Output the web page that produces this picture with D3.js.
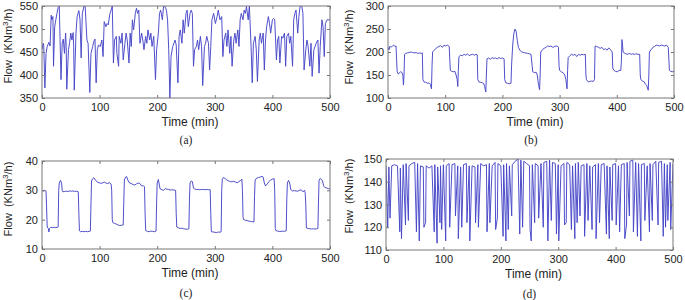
<!DOCTYPE html>
<html><head><meta charset="utf-8">
<script src="https://cdn.jsdelivr.net/npm/d3@7/dist/d3.min.js"></script>
<style>
body{margin:0;background:#fff;}
text{font-family:"Liberation Sans",Arial,sans-serif;fill:#222;}
.cap{font-family:"Liberation Serif","Times New Roman",serif;}
.ylab{white-space:pre;}
</style></head>
<body>
<svg id="chart" width="685" height="300"></svg>
<script>
// ---------- data ----------
const aT=[0,2,3,5,7,9,12,14,16,17,19,20,22,24,26,28,30,33,35,37,39,41,42,43,46,48,50,52,54,55,56,59,61,64,66,68,70,73,75,78,80,83,85,88,90,92,94,96,98,101,104,106,108,111,113,115,118,120,122,124,126,129,130,133,134,137,139,141,144,146,148,151,153,155,157,159,162,164,166,168,170,173,175,177,180,182,184,187,189,191,194,197,199,202,204,206,209,211,213,216,218,220,222,224,227,229,231,233,236,238,240,243,245,247,250,252,254,257,259,261,263,265,268,270,272,275,277,279,282,284,286,289,291,293,295,298,301,304,306,309,312,314,316,319,321,323,326,328,330,333,335,337,340,342,344,346,349,351,353,355,358,360,363,365,367,370,372,374,377,379,381,384,386,388,390,393,395,397,400,402,404,407,409,411,413,416,418,421,423,425,428,430,432,435,437,439,441,444,446,448,451,453,455,458,460,462,465,467,469,472,474,476,479,481,483,486,488,490,492,495,497,500];
const aV=[455,469,465,372,447,462,471,463,530,520,527,419,505,520,534,547,550,390,469,478,447,491,462,369,455,471,491,476,492,462,367,491,527,540,520,437,534,550,549,476,469,362,447,462,473,478,383,455,465,462,476,440,516,505,512,509,534,541,550,426,476,484,447,419,484,469,491,433,469,491,476,426,491,462,520,498,534,545,534,541,469,491,476,455,484,469,498,476,491,462,484,390,455,491,534,541,520,549,550,541,520,455,350,440,462,469,476,465,383,484,498,469,520,491,534,541,505,534,541,534,419,455,462,476,455,484,462,377,462,469,484,469,411,462,520,534,512,527,541,520,527,440,476,491,462,498,447,484,419,476,491,469,498,462,520,534,520,541,534,549,520,550,462,383,469,484,455,386,476,491,469,491,411,476,505,527,512,491,520,523,520,433,476,484,426,484,480,491,419,484,491,469,484,419,520,534,541,491,527,549,550,534,411,455,476,462,419,469,397,455,462,469,476,404,462,520,505,440,512,520,520,520];

const bT=[0,2,3,6,8,10,12,14,15,16,18,20,22,24,26,27,28,29,31,34,37,40,43,46,49,52,55,58,60,61,63,66,69,72,74,76,77,78,80,83,86,89,92,95,98,101,104,107,108,109,111,114,117,119,121,122,123,124,127,130,133,136,139,142,145,148,151,154,156,157,159,162,165,167,169,171,172,173,176,179,182,185,188,191,194,197,200,203,204,206,209,212,215,216,218,220,222,224,226,228,231,234,237,240,244,247,250,252,253,256,259,261,263,265,266,267,270,273,276,279,282,285,288,291,294,297,298,299,300,303,306,309,311,313,314,315,318,321,324,327,330,333,336,339,342,345,346,347,350,353,356,359,361,362,365,368,371,374,377,380,383,386,389,392,393,395,398,401,404,407,408,409,410,411,413,416,419,422,425,428,431,434,437,440,441,442,445,448,450,452,455,456,457,460,463,466,469,472,475,478,481,484,487,490,491,492,494,497,500];
const bV=[210,205,212,211,213,215,212,213,185,158,152,155,157,156,150,128,150,195,197,198,199,200,199,198,199,197,198,197,198,140,135,134,132,133,130,120,170,200,203,207,210,212,214,210,215,213,215,212,185,160,158,157,158,150,140,125,160,190,193,192,195,193,196,192,194,195,193,195,194,140,135,134,133,132,125,113,150,185,187,184,188,186,187,185,188,186,187,185,140,133,132,131,132,170,215,240,250,245,225,210,203,200,199,198,197,196,195,170,157,155,156,150,130,118,150,200,205,208,210,213,212,213,210,212,213,212,210,170,160,157,155,150,140,120,160,188,192,195,193,195,190,195,193,195,194,195,150,140,135,136,137,136,140,213,212,210,208,210,205,207,204,209,205,200,165,160,158,157,160,160,180,227,215,200,198,196,195,197,195,196,195,196,195,195,150,140,137,135,130,128,117,150,200,205,210,212,215,214,213,215,214,213,215,210,185,160,158,157,158];

const cT=[0,2,5,7,8,9,11,12,13,15,18,21,24,27,28,29,30,32,34,35,36,39,42,45,48,51,54,57,60,63,64,65,67,70,73,76,79,82,84,85,86,88,90,93,96,99,102,105,108,111,114,117,120,121,122,123,126,129,132,135,138,141,142,143,145,147,149,152,155,158,161,164,167,170,173,176,178,179,180,183,186,189,192,195,198,199,200,202,204,205,208,211,214,217,220,223,226,229,232,233,234,237,240,243,246,249,252,255,256,257,259,261,263,265,268,271,274,277,280,283,286,289,292,293,294,297,300,303,306,309,311,312,313,315,318,321,324,327,330,333,336,339,342,345,347,348,349,350,353,356,359,362,365,368,369,370,373,376,379,382,384,386,388,391,394,397,400,403,404,405,406,409,412,415,418,421,424,425,426,428,430,432,435,438,441,444,447,450,453,456,457,458,459,462,465,468,471,474,477,479,480,481,483,485,487,489,491,494,497,500];
const cV=[30,29.8,30,29.7,24,17.5,17,15.8,17,17.4,17.3,17.4,17.3,17.4,17.5,30,32.5,33.4,32.5,30,29.5,29.6,29.7,29.6,29.8,29.7,29.8,29.6,29.7,29.5,22,16.2,15.9,16,15.9,16,15.9,16,16.1,25,33.2,34,34.3,33.5,32.8,32.6,32.4,32.5,32.8,32.5,32.3,32.6,32.1,30,20,19,18.7,18.5,18.2,18,18.1,18.2,26,33.5,34.5,34.7,33.5,32.5,32.3,32,31.8,32.2,32.5,32.3,31.5,31.6,31.2,22,16.3,16,15.9,16.1,16,15.9,16.1,26,32.5,33.7,31.5,30.5,30.2,30,30.6,30.4,30.3,30.1,30.2,30.1,30,22,17.5,17.2,17,17.1,16.9,16.8,16.7,16.9,27,32.5,33.2,33,30.8,30.4,30.3,30.3,30.2,30.3,30.3,30.2,30.3,30.2,30.2,22,15.9,15.8,15.7,15.6,15.8,15.7,15.9,30,33.8,34.4,34,33.5,33.2,33,32.9,33.1,32.8,32.6,33,33.4,33.8,30,21,20,19.8,19.7,19.5,19.4,19.3,19.2,28,33.5,34.2,34.4,34.5,34.8,34.5,32.5,31.5,32.2,33,33.5,33.8,34,30,17,16.3,16.1,16,16,16.1,16,16.2,27,32.5,33.4,32.5,30.2,29.8,29.9,29.8,29.7,30,30.2,29.5,30,29,25,17.2,17,16.9,16.8,16.9,16.8,16.9,17,26,33.5,34,33.8,33.2,31.5,31,30.8,30.6,30.4];

// panel (d): level readings every 5 min plus the narrow dips read separately
const dBaseT=[0,5,10,15,20,25,30,35,40,45,50,55,60,65,70,75,80,85,90,95,100,105,110,115,120,125,130,135,140,145,150,155,160,165,170,175,180,185,190,195,200,205,210,215,220,225,230,235,240,245,250,255,260,265,270,275,280,285,290,295,300,305,310,315,320,325,330,335,340,345,350,355,360,365,370,375,380,385,390,395,400,405,410,415,420,425,430,435,440,445,450,455,460,465,470,475,480,485,490,495,500];
const dBaseV=[147,146.5,147,147.5,147,146,147.5,148,147,148,148.5,148,147,146.5,147,146,147,147.5,146.5,147,147.5,147,148,147.5,148,147,146.5,147.5,148,147,147,146.5,147.5,148,147,147.5,148,147,148.5,148,147,147.5,148,147,147.5,149,150,149.5,149,148,147,147.5,148,147,148,148.5,149,149.5,148.5,148,147.5,147,148,148.5,147.5,147,148,148.5,147,147.5,148,147,146.5,147.5,148,147.5,148,147,146.5,147.5,148,147,147.5,148,148.5,149,149.5,148.5,148,147.5,148,147,148,147.5,149,148.5,149,148,147.5,148.5,148];
const dDipT=[3,7,24,27,34,39,53,58,66,69,84,89,94,97,104,111,121,126,132,141,146,156,161,176,181,191,194,204,209,213,219,233,238,251,253,259,266,274,282,288,297,301,311,314,323,329,333,338,346,352,359,366,372,384,389,394,401,407,416,419,424,431,438,444,451,459,464,474,483,487,491,496];
const dDipV=[120,124,118,115,121,123,118,114,120,122,118,113,122,119,114,120,125,115,120,122,114,122,120,118,122,119,124,116,114,119,125,117,120,119,114,122,124,120,114,123,117,114,121,122,119,115,122,125,116,123,119,115,122,117,115,123,121,118,115,121,125,118,116,114,123,118,123,121,116,120,123,119];

const xTicks=[0,100,200,300,400,500];
const aTicks=[350,400,450,500,550];
const bTicks=[100,150,200,250,300];
const cTicks=[10,20,30,40];
const dTicks=[110,120,130,140,150];
const captions=["(a)","(b)","(c)","(d)"];

// ---------- drawing ----------
const dPts=dBaseT.map((t,i)=>[t,dBaseV[i]]).concat(dDipT.map((t,i)=>[t,dDipV[i]])).sort((p,q)=>p[0]-q[0]);

const panels=[
  {pts:aT.map((t,i)=>[t,aV[i]]),dom:[350,550],ticks:aTicks,x0:42,x1:330,y0:6,y1:98,lx:12,ly:46,cap:captions[0]},
  {pts:bT.map((t,i)=>[t,bV[i]]),dom:[100,300],ticks:bTicks,x0:388,x1:674,y0:6,y1:98,lx:353,ly:47,cap:captions[1]},
  {pts:cT.map((t,i)=>[t,cV[i]]),dom:[10,40],ticks:cTicks,x0:42,x1:330,y0:161,y1:249,lx:12,ly:199,cap:captions[2]},
  {pts:dPts,dom:[110,150],ticks:dTicks,x0:386,x1:673,y0:159,y1:250,lx:353,ly:196,cap:captions[3]}
];

const svg=d3.select("#chart");
const lineColor="#4646c8", axisColor="#777";

panels.forEach((p,k)=>{
  const x=d3.scaleLinear().domain([0,500]).range([p.x0,p.x1]);
  const y=d3.scaleLinear().domain(p.dom).range([p.y1,p.y0]);
  const g=svg.append("g");
  const cid="clip"+k;
  svg.append("clipPath").attr("id",cid).append("rect")
    .attr("x",p.x0).attr("y",p.y0).attr("width",p.x1-p.x0).attr("height",p.y1-p.y0);

  g.append("path").datum(p.pts)
    .attr("clip-path","url(#"+cid+")")
    .attr("fill","none").attr("stroke",lineColor).attr("stroke-width",0.95)
    .attr("stroke-linejoin","round")
    .attr("d",d3.line().x(d=>x(d[0])).y(d=>y(d[1])));

  const styleAxis=sel=>{sel.select(".domain").remove();sel.selectAll("line").attr("stroke",axisColor);
    sel.selectAll("text").attr("fill","#222").style("font-size","11px").style("font-family","'Liberation Sans',Arial,sans-serif");};

  g.append("g").attr("transform",`translate(0,${p.y1})`)
    .call(d3.axisBottom(x).tickValues(xTicks).tickSizeInner(-3).tickSizeOuter(0).tickPadding(5)).call(styleAxis);
  g.append("g").attr("transform",`translate(0,${p.y0})`)
    .call(d3.axisTop(x).tickValues(xTicks).tickSizeInner(-3).tickSizeOuter(0).tickFormat("")).call(styleAxis);
  g.append("g").attr("transform",`translate(${p.x0},0)`)
    .call(d3.axisLeft(y).tickValues(p.ticks).tickSizeInner(-3).tickSizeOuter(0).tickPadding(4)).call(styleAxis);
  g.append("g").attr("transform",`translate(${p.x1},0)`)
    .call(d3.axisRight(y).tickValues(p.ticks).tickSizeInner(-3).tickSizeOuter(0).tickFormat("")).call(styleAxis);

  g.append("rect").attr("x",p.x0).attr("y",p.y0).attr("width",p.x1-p.x0).attr("height",p.y1-p.y0)
    .attr("fill","none").attr("stroke",axisColor).attr("stroke-width",1);

  const cx=(p.x0+p.x1)/2;
  g.append("text").attr("x",cx+4).attr("y",p.y1+28).attr("text-anchor","middle")
    .style("font-size","12px").text("Time (min)");
  g.append("text").attr("class","cap").attr("x",cx).attr("y",p.y1+(k<2?46:48)).attr("text-anchor","middle")
    .style("font-size","11.5px").text(p.cap);

  const yl=g.append("text").attr("class","ylab").attr("transform",`translate(${p.lx},${p.ly}) rotate(-90)`)
    .attr("text-anchor","middle").style("font-size","11px");
  yl.append("tspan").text("Flow\u00a0\u00a0(KNm");
  yl.append("tspan").attr("dy",-4).style("font-size","8px").text("3");
  yl.append("tspan").attr("dy",4).text("/h)");
});
</script>
</body></html>
